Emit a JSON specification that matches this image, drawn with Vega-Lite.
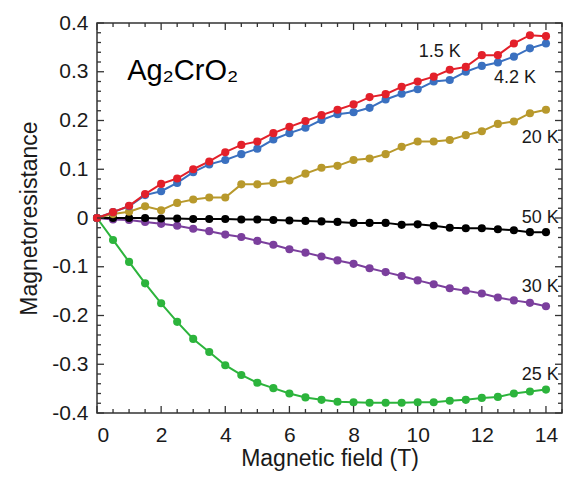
{
  "$schema": "https://vega.github.io/schema/vega-lite/v6.json",
  "width": 465,
  "height": 390,
  "autosize": {"type": "none"},
  "padding": {"left": 97, "top": 23, "right": 15, "bottom": 66},
  "background": "white",
  "config": {
    "font": "Liberation Sans",
    "view": {"stroke": "#333333", "strokeWidth": 1.5},
    "axis": {
      "grid": false,
      "domain": false,
      "ticks": false,
      "labelColor": "#1a1a1a",
      "titleColor": "#1a1a1a",
      "labelFontSize": 21,
      "titleFontSize": 23,
      "titleFontWeight": "normal"
    }
  },
  "datasets": {
    "mr": [
      {"T": "25 K", "B": 0, "MR": 0}, {"T": "25 K", "B": 0.5, "MR": -0.045}, {"T": "25 K", "B": 1, "MR": -0.090}, {"T": "25 K", "B": 1.5, "MR": -0.134}, {"T": "25 K", "B": 2, "MR": -0.175}, {"T": "25 K", "B": 2.5, "MR": -0.213}, {"T": "25 K", "B": 3, "MR": -0.248}, {"T": "25 K", "B": 3.5, "MR": -0.275}, {"T": "25 K", "B": 4, "MR": -0.302}, {"T": "25 K", "B": 4.5, "MR": -0.322}, {"T": "25 K", "B": 5, "MR": -0.338}, {"T": "25 K", "B": 5.5, "MR": -0.349}, {"T": "25 K", "B": 6, "MR": -0.360}, {"T": "25 K", "B": 6.5, "MR": -0.368}, {"T": "25 K", "B": 7, "MR": -0.373}, {"T": "25 K", "B": 7.5, "MR": -0.377}, {"T": "25 K", "B": 8, "MR": -0.378}, {"T": "25 K", "B": 8.5, "MR": -0.379}, {"T": "25 K", "B": 9, "MR": -0.379}, {"T": "25 K", "B": 9.5, "MR": -0.379}, {"T": "25 K", "B": 10, "MR": -0.378}, {"T": "25 K", "B": 10.5, "MR": -0.378}, {"T": "25 K", "B": 11, "MR": -0.375}, {"T": "25 K", "B": 11.5, "MR": -0.373}, {"T": "25 K", "B": 12, "MR": -0.369}, {"T": "25 K", "B": 12.5, "MR": -0.367}, {"T": "25 K", "B": 13, "MR": -0.360}, {"T": "25 K", "B": 13.5, "MR": -0.356}, {"T": "25 K", "B": 14, "MR": -0.352},
      {"T": "30 K", "B": 0, "MR": 0}, {"T": "30 K", "B": 0.5, "MR": -0.003}, {"T": "30 K", "B": 1, "MR": -0.004}, {"T": "30 K", "B": 1.5, "MR": -0.008}, {"T": "30 K", "B": 2, "MR": -0.012}, {"T": "30 K", "B": 2.5, "MR": -0.016}, {"T": "30 K", "B": 3, "MR": -0.022}, {"T": "30 K", "B": 3.5, "MR": -0.027}, {"T": "30 K", "B": 4, "MR": -0.034}, {"T": "30 K", "B": 4.5, "MR": -0.039}, {"T": "30 K", "B": 5, "MR": -0.047}, {"T": "30 K", "B": 5.5, "MR": -0.055}, {"T": "30 K", "B": 6, "MR": -0.064}, {"T": "30 K", "B": 6.5, "MR": -0.071}, {"T": "30 K", "B": 7, "MR": -0.079}, {"T": "30 K", "B": 7.5, "MR": -0.087}, {"T": "30 K", "B": 8, "MR": -0.094}, {"T": "30 K", "B": 8.5, "MR": -0.103}, {"T": "30 K", "B": 9, "MR": -0.111}, {"T": "30 K", "B": 9.5, "MR": -0.119}, {"T": "30 K", "B": 10, "MR": -0.128}, {"T": "30 K", "B": 10.5, "MR": -0.136}, {"T": "30 K", "B": 11, "MR": -0.144}, {"T": "30 K", "B": 11.5, "MR": -0.149}, {"T": "30 K", "B": 12, "MR": -0.155}, {"T": "30 K", "B": 12.5, "MR": -0.163}, {"T": "30 K", "B": 13, "MR": -0.169}, {"T": "30 K", "B": 13.5, "MR": -0.174}, {"T": "30 K", "B": 14, "MR": -0.181},
      {"T": "50 K", "B": 0, "MR": 0}, {"T": "50 K", "B": 0.5, "MR": 0}, {"T": "50 K", "B": 1, "MR": 0}, {"T": "50 K", "B": 1.5, "MR": 0}, {"T": "50 K", "B": 2, "MR": -0.001}, {"T": "50 K", "B": 2.5, "MR": -0.001}, {"T": "50 K", "B": 3, "MR": -0.002}, {"T": "50 K", "B": 3.5, "MR": -0.002}, {"T": "50 K", "B": 4, "MR": -0.002}, {"T": "50 K", "B": 4.5, "MR": -0.003}, {"T": "50 K", "B": 5, "MR": -0.003}, {"T": "50 K", "B": 5.5, "MR": -0.004}, {"T": "50 K", "B": 6, "MR": -0.005}, {"T": "50 K", "B": 6.5, "MR": -0.006}, {"T": "50 K", "B": 7, "MR": -0.007}, {"T": "50 K", "B": 7.5, "MR": -0.008}, {"T": "50 K", "B": 8, "MR": -0.010}, {"T": "50 K", "B": 8.5, "MR": -0.010}, {"T": "50 K", "B": 9, "MR": -0.010}, {"T": "50 K", "B": 9.5, "MR": -0.014}, {"T": "50 K", "B": 10, "MR": -0.013}, {"T": "50 K", "B": 10.5, "MR": -0.016}, {"T": "50 K", "B": 11, "MR": -0.020}, {"T": "50 K", "B": 11.5, "MR": -0.021}, {"T": "50 K", "B": 12, "MR": -0.021}, {"T": "50 K", "B": 12.5, "MR": -0.023}, {"T": "50 K", "B": 13, "MR": -0.025}, {"T": "50 K", "B": 13.5, "MR": -0.029}, {"T": "50 K", "B": 14, "MR": -0.029},
      {"T": "20 K", "B": 0, "MR": 0}, {"T": "20 K", "B": 0.5, "MR": 0.008}, {"T": "20 K", "B": 1, "MR": 0.013}, {"T": "20 K", "B": 1.5, "MR": 0.024}, {"T": "20 K", "B": 2, "MR": 0.016}, {"T": "20 K", "B": 2.5, "MR": 0.031}, {"T": "20 K", "B": 3, "MR": 0.038}, {"T": "20 K", "B": 3.5, "MR": 0.042}, {"T": "20 K", "B": 4, "MR": 0.042}, {"T": "20 K", "B": 4.5, "MR": 0.069}, {"T": "20 K", "B": 5, "MR": 0.069}, {"T": "20 K", "B": 5.5, "MR": 0.072}, {"T": "20 K", "B": 6, "MR": 0.077}, {"T": "20 K", "B": 6.5, "MR": 0.091}, {"T": "20 K", "B": 7, "MR": 0.103}, {"T": "20 K", "B": 7.5, "MR": 0.107}, {"T": "20 K", "B": 8, "MR": 0.119}, {"T": "20 K", "B": 8.5, "MR": 0.122}, {"T": "20 K", "B": 9, "MR": 0.131}, {"T": "20 K", "B": 9.5, "MR": 0.146}, {"T": "20 K", "B": 10, "MR": 0.157}, {"T": "20 K", "B": 10.5, "MR": 0.157}, {"T": "20 K", "B": 11, "MR": 0.160}, {"T": "20 K", "B": 11.5, "MR": 0.170}, {"T": "20 K", "B": 12, "MR": 0.178}, {"T": "20 K", "B": 12.5, "MR": 0.193}, {"T": "20 K", "B": 13, "MR": 0.198}, {"T": "20 K", "B": 13.5, "MR": 0.215}, {"T": "20 K", "B": 14, "MR": 0.222},
      {"T": "4.2 K", "B": 0, "MR": 0}, {"T": "4.2 K", "B": 0.5, "MR": 0.012}, {"T": "4.2 K", "B": 1, "MR": 0.024}, {"T": "4.2 K", "B": 1.5, "MR": 0.047}, {"T": "4.2 K", "B": 2, "MR": 0.055}, {"T": "4.2 K", "B": 2.5, "MR": 0.072}, {"T": "4.2 K", "B": 3, "MR": 0.094}, {"T": "4.2 K", "B": 3.5, "MR": 0.110}, {"T": "4.2 K", "B": 4, "MR": 0.119}, {"T": "4.2 K", "B": 4.5, "MR": 0.131}, {"T": "4.2 K", "B": 5, "MR": 0.142}, {"T": "4.2 K", "B": 5.5, "MR": 0.161}, {"T": "4.2 K", "B": 6, "MR": 0.174}, {"T": "4.2 K", "B": 6.5, "MR": 0.185}, {"T": "4.2 K", "B": 7, "MR": 0.201}, {"T": "4.2 K", "B": 7.5, "MR": 0.213}, {"T": "4.2 K", "B": 8, "MR": 0.217}, {"T": "4.2 K", "B": 8.5, "MR": 0.226}, {"T": "4.2 K", "B": 9, "MR": 0.243}, {"T": "4.2 K", "B": 9.5, "MR": 0.255}, {"T": "4.2 K", "B": 10, "MR": 0.264}, {"T": "4.2 K", "B": 10.5, "MR": 0.280}, {"T": "4.2 K", "B": 11, "MR": 0.283}, {"T": "4.2 K", "B": 11.5, "MR": 0.300}, {"T": "4.2 K", "B": 12, "MR": 0.312}, {"T": "4.2 K", "B": 12.5, "MR": 0.319}, {"T": "4.2 K", "B": 13, "MR": 0.331}, {"T": "4.2 K", "B": 13.5, "MR": 0.348}, {"T": "4.2 K", "B": 14, "MR": 0.358},
      {"T": "1.5 K", "B": 0, "MR": 0}, {"T": "1.5 K", "B": 0.5, "MR": 0.012}, {"T": "1.5 K", "B": 1, "MR": 0.025}, {"T": "1.5 K", "B": 1.5, "MR": 0.049}, {"T": "1.5 K", "B": 2, "MR": 0.070}, {"T": "1.5 K", "B": 2.5, "MR": 0.081}, {"T": "1.5 K", "B": 3, "MR": 0.100}, {"T": "1.5 K", "B": 3.5, "MR": 0.116}, {"T": "1.5 K", "B": 4, "MR": 0.135}, {"T": "1.5 K", "B": 4.5, "MR": 0.150}, {"T": "1.5 K", "B": 5, "MR": 0.157}, {"T": "1.5 K", "B": 5.5, "MR": 0.174}, {"T": "1.5 K", "B": 6, "MR": 0.187}, {"T": "1.5 K", "B": 6.5, "MR": 0.199}, {"T": "1.5 K", "B": 7, "MR": 0.211}, {"T": "1.5 K", "B": 7.5, "MR": 0.222}, {"T": "1.5 K", "B": 8, "MR": 0.233}, {"T": "1.5 K", "B": 8.5, "MR": 0.248}, {"T": "1.5 K", "B": 9, "MR": 0.254}, {"T": "1.5 K", "B": 9.5, "MR": 0.269}, {"T": "1.5 K", "B": 10, "MR": 0.280}, {"T": "1.5 K", "B": 10.5, "MR": 0.290}, {"T": "1.5 K", "B": 11, "MR": 0.304}, {"T": "1.5 K", "B": 11.5, "MR": 0.310}, {"T": "1.5 K", "B": 12, "MR": 0.334}, {"T": "1.5 K", "B": 12.5, "MR": 0.334}, {"T": "1.5 K", "B": 13, "MR": 0.358}, {"T": "1.5 K", "B": 13.5, "MR": 0.375}, {"T": "1.5 K", "B": 14, "MR": 0.373}
    ],
    "notes": [
      {"text": "1.5 K", "B": 11.34, "MR": 0.330},
      {"text": "4.2 K", "B": 13.69, "MR": 0.277},
      {"text": "20 K", "B": 14.4, "MR": 0.154},
      {"text": "50 K", "B": 14.4, "MR": -0.010},
      {"text": "30 K", "B": 14.4, "MR": -0.151},
      {"text": "25 K", "B": 14.4, "MR": -0.332}
    ],
    "fieldMajor": [{"v": 0}, {"v": 2}, {"v": 4}, {"v": 6}, {"v": 8}, {"v": 10}, {"v": 12}, {"v": 14}],
    "fieldMinor": [{"v": 0.5}, {"v": 1}, {"v": 1.5}, {"v": 2.5}, {"v": 3}, {"v": 3.5}, {"v": 4.5}, {"v": 5}, {"v": 5.5}, {"v": 6.5}, {"v": 7}, {"v": 7.5}, {"v": 8.5}, {"v": 9}, {"v": 9.5}, {"v": 10.5}, {"v": 11}, {"v": 11.5}, {"v": 12.5}, {"v": 13}, {"v": 13.5}, {"v": 14.5}],
    "mrMajor": [{"v": -0.4}, {"v": -0.3}, {"v": -0.2}, {"v": -0.1}, {"v": 0}, {"v": 0.1}, {"v": 0.2}, {"v": 0.3}, {"v": 0.4}],
    "mrMinor": [{"v": -0.38}, {"v": -0.36}, {"v": -0.34}, {"v": -0.32}, {"v": -0.28}, {"v": -0.26}, {"v": -0.24}, {"v": -0.22}, {"v": -0.18}, {"v": -0.16}, {"v": -0.14}, {"v": -0.12}, {"v": -0.08}, {"v": -0.06}, {"v": -0.04}, {"v": -0.02}, {"v": 0.02}, {"v": 0.04}, {"v": 0.06}, {"v": 0.08}, {"v": 0.12}, {"v": 0.14}, {"v": 0.16}, {"v": 0.18}, {"v": 0.22}, {"v": 0.24}, {"v": 0.26}, {"v": 0.28}, {"v": 0.32}, {"v": 0.34}, {"v": 0.36}, {"v": 0.38}]
  },
  "layer": [
    {
      "data": {"name": "mr"},
      "mark": {"type": "line", "strokeWidth": 2, "point": {"filled": true, "size": 66, "opacity": 1}},
      "encoding": {
        "x": {
          "field": "B", "type": "quantitative",
          "scale": {"domain": [0, 14.5], "nice": false, "zero": false},
          "axis": {
            "title": "Magnetic field (T)",
            "values": [0, 2, 4, 6, 8, 10, 12, 14],
            "labelPadding": 11,
            "titlePadding": 2
          }
        },
        "y": {
          "field": "MR", "type": "quantitative",
          "scale": {"domain": [-0.4, 0.4], "nice": false, "zero": false},
          "axis": {
            "title": "Magnetoresistance",
            "values": [-0.4, -0.3, -0.2, -0.1, 0, 0.1, 0.2, 0.3, 0.4],
            "labelExpr": "toString(datum.value)",
            "labelPadding": 9,
            "titlePadding": 10
          }
        },
        "color": {
          "field": "T", "type": "nominal", "legend": null,
          "scale": {
            "domain": ["1.5 K", "4.2 K", "20 K", "25 K", "30 K", "50 K"],
            "range": ["#e3202a", "#3a70c0", "#b8992c", "#2cb43c", "#7b3f9d", "#000000"]
          }
        }
      }
    },
    {
      "data": {"name": "fieldMajor"},
      "mark": {"type": "tick", "orient": "vertical", "size": 7, "thickness": 1.3, "color": "#333333", "opacity": 1, "yOffset": -3.5},
      "encoding": {
        "x": {"field": "v", "type": "quantitative"},
        "y": {"datum": -0.4, "type": "quantitative"}
      }
    },
    {
      "data": {"name": "fieldMinor"},
      "mark": {"type": "tick", "orient": "vertical", "size": 4, "thickness": 1.3, "color": "#333333", "opacity": 1, "yOffset": -2},
      "encoding": {
        "x": {"field": "v", "type": "quantitative"},
        "y": {"datum": -0.4, "type": "quantitative"}
      }
    },
    {
      "data": {"name": "fieldMajor"},
      "mark": {"type": "tick", "orient": "vertical", "size": 7, "thickness": 1.3, "color": "#333333", "opacity": 1, "yOffset": 3.5},
      "encoding": {
        "x": {"field": "v", "type": "quantitative"},
        "y": {"datum": 0.4, "type": "quantitative"}
      }
    },
    {
      "data": {"name": "fieldMinor"},
      "mark": {"type": "tick", "orient": "vertical", "size": 4, "thickness": 1.3, "color": "#333333", "opacity": 1, "yOffset": 2},
      "encoding": {
        "x": {"field": "v", "type": "quantitative"},
        "y": {"datum": 0.4, "type": "quantitative"}
      }
    },
    {
      "data": {"name": "mrMajor"},
      "mark": {"type": "tick", "orient": "horizontal", "size": 7, "thickness": 1.3, "color": "#333333", "opacity": 1, "xOffset": 3.5},
      "encoding": {
        "y": {"field": "v", "type": "quantitative"},
        "x": {"datum": 0, "type": "quantitative"}
      }
    },
    {
      "data": {"name": "mrMinor"},
      "mark": {"type": "tick", "orient": "horizontal", "size": 4, "thickness": 1.3, "color": "#333333", "opacity": 1, "xOffset": 2},
      "encoding": {
        "y": {"field": "v", "type": "quantitative"},
        "x": {"datum": 0, "type": "quantitative"}
      }
    },
    {
      "data": {"name": "mrMajor"},
      "mark": {"type": "tick", "orient": "horizontal", "size": 7, "thickness": 1.3, "color": "#333333", "opacity": 1, "xOffset": -3.5},
      "encoding": {
        "y": {"field": "v", "type": "quantitative"},
        "x": {"datum": 14.5, "type": "quantitative"}
      }
    },
    {
      "data": {"name": "mrMinor"},
      "mark": {"type": "tick", "orient": "horizontal", "size": 4, "thickness": 1.3, "color": "#333333", "opacity": 1, "xOffset": -2},
      "encoding": {
        "y": {"field": "v", "type": "quantitative"},
        "x": {"datum": 14.5, "type": "quantitative"}
      }
    },
    {
      "data": {"name": "notes"},
      "mark": {"type": "text", "align": "right", "baseline": "alphabetic", "fontSize": 18, "color": "#1a1a1a"},
      "encoding": {
        "x": {"field": "B", "type": "quantitative"},
        "y": {"field": "MR", "type": "quantitative"},
        "text": {"field": "text"}
      }
    },
    {
      "data": {"values": [{"text": "Ag₂CrO₂", "B": 0.94, "MR": 0.283}]},
      "mark": {"type": "text", "align": "left", "baseline": "alphabetic", "fontSize": 29, "color": "#000000"},
      "encoding": {
        "x": {"field": "B", "type": "quantitative"},
        "y": {"field": "MR", "type": "quantitative"},
        "text": {"field": "text"}
      }
    }
  ]
}
